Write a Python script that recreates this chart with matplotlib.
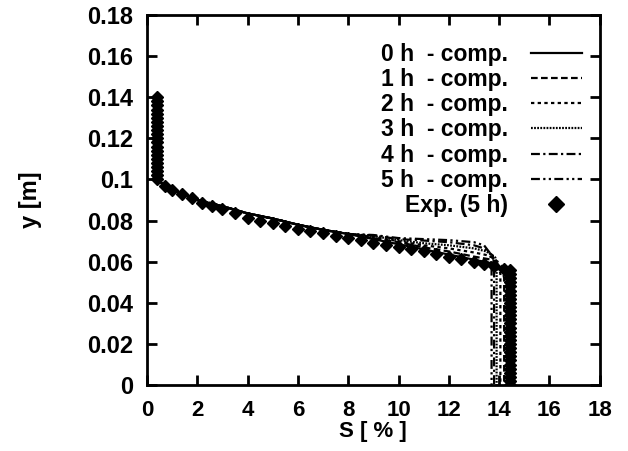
import matplotlib
matplotlib.use('Agg')
import matplotlib.pyplot as plt
from matplotlib.ticker import FormatStrFormatter

plt.rcParams.update({'font.family': 'Liberation Sans', 'font.weight': 'bold', 'font.size': 17})

# computed profiles: S [%] vs y [m]
upper_s = [0.3, 0.3, 0.6, 1.0, 2.0, 3.0, 4.0, 5.0, 6.0, 7.0, 8.0]
upper_y = [0.140, 0.102, 0.098, 0.095, 0.090, 0.087, 0.0835, 0.081, 0.078, 0.0755, 0.0735]

s_0h = upper_s + [9, 10, 11, 12, 13, 13.8, 14.2, 14.35, 14.35]
y_0h = upper_y + [0.071, 0.0685, 0.066, 0.0635, 0.061, 0.059, 0.056, 0.050, 0.0]
s_1h = upper_s + [9, 10, 11, 12, 13, 13.7, 14.1, 14.2, 14.2]
y_1h = upper_y + [0.0715, 0.0695, 0.067, 0.065, 0.0625, 0.061, 0.058, 0.052, 0.0]
s_2h = upper_s + [9, 10, 11, 12, 13, 13.6, 13.95, 14.05, 14.05]
y_2h = upper_y + [0.072, 0.070, 0.068, 0.0665, 0.0645, 0.063, 0.060, 0.054, 0.0]
s_3h = upper_s + [9, 10, 11, 12, 13, 13.5, 13.85, 13.9, 13.9]
y_3h = upper_y + [0.0725, 0.0705, 0.069, 0.068, 0.0665, 0.065, 0.062, 0.056, 0.0]
s_4h = upper_s + [9, 10, 11, 12, 13, 13.4, 13.75, 13.8, 13.8]
y_4h = upper_y + [0.0728, 0.071, 0.0703, 0.0695, 0.068, 0.0665, 0.063, 0.057, 0.0]
s_5h = upper_s + [9, 10, 11, 12, 13, 13.4, 13.65, 13.7, 13.7]
y_5h = upper_y + [0.073, 0.0715, 0.071, 0.0705, 0.0695, 0.068, 0.064, 0.058, 0.0]

# experimental points (5 h)
exp_top_y = [0.140, 0.138, 0.136, 0.134, 0.132, 0.130, 0.128, 0.126, 0.124, 0.122,
             0.120, 0.118, 0.116, 0.114, 0.112, 0.110, 0.108, 0.106, 0.104, 0.102, 0.100]
exp_mid_s = [0.7, 1.0, 1.4, 1.8, 2.2, 2.6, 3.0, 3.5, 4.0, 4.5, 5.0, 5.5, 6.0, 6.5,
             7.0, 7.5, 8.0, 8.5, 9.0, 9.5, 10.0, 10.5, 11.0, 11.5, 12.0, 12.5,
             13.0, 13.4, 13.8, 14.2]
exp_mid_y = [0.097, 0.095, 0.093, 0.091, 0.0885, 0.087, 0.0855, 0.0835, 0.0815, 0.080,
             0.079, 0.0775, 0.076, 0.075, 0.074, 0.0725, 0.0715, 0.0705, 0.069, 0.068,
             0.067, 0.066, 0.065, 0.064, 0.0625, 0.0615, 0.060, 0.059, 0.058, 0.0565]
exp_bot_y = [0.056, 0.054, 0.052, 0.050, 0.048, 0.046, 0.044, 0.042, 0.040, 0.038,
             0.036, 0.034, 0.032, 0.030, 0.028, 0.026, 0.024, 0.022, 0.020, 0.018,
             0.016, 0.014, 0.012, 0.010, 0.008, 0.006, 0.004, 0.002, 0.0]
exp_s = [0.4] * len(exp_top_y) + exp_mid_s + [14.45] * len(exp_bot_y)
exp_y = exp_top_y + exp_mid_y + exp_bot_y

fig = plt.figure(figsize=(6.28, 4.51), dpi=100)
ax = fig.add_axes([0.234, 0.146, 0.721, 0.821])

lw = 1.6
ax.plot(s_0h, y_0h, 'k-', lw=lw, label='0 h  - comp.')
ax.plot(s_1h, y_1h, 'k', lw=lw, dashes=(3, 1.5), label='1 h  - comp.')
ax.plot(s_2h, y_2h, 'k', lw=lw, dashes=(1.5, 1.5), label='2 h  - comp.')
ax.plot(s_3h, y_3h, 'k', lw=lw, dashes=(0.8, 0.6), label='3 h  - comp.')
ax.plot(s_4h, y_4h, 'k', lw=lw, dashes=(4, 1.5, 1, 1.5), label='4 h  - comp.')
ax.plot(s_5h, y_5h, 'k', lw=lw, dashes=(4, 1.5, 1, 1.5, 1, 1.5), label='5 h  - comp.')
ax.plot(exp_s, exp_y, 'kD', ms=6, ls='none', label='Exp. (5 h)')

ax.set_xlim(0, 18)
ax.set_ylim(0, 0.18)
ax.set_xticks(range(0, 19, 2))
ax.set_yticks([0, 0.02, 0.04, 0.06, 0.08, 0.1, 0.12, 0.14, 0.16, 0.18])
ax.yaxis.set_major_formatter(FormatStrFormatter('%g'))
ax.tick_params(direction='in', length=7, width=2, top=True, right=True, pad=10)
ax.tick_params(axis='x', pad=11, labelsize=16)
for sp in ax.spines.values():
    sp.set_linewidth(2)

ax.set_xlabel('S [ % ]', fontsize=16, fontweight='bold', labelpad=0)
ax.set_ylabel('y [m]', fontsize=17, fontweight='bold', labelpad=32)

ax.legend(loc='upper right', bbox_to_anchor=(0.98, 0.95), frameon=False, markerfirst=False,
          handlelength=2.2, handletextpad=1.0, labelspacing=0.1, borderaxespad=0,
          prop={'weight': 'bold', 'size': 16.5}, numpoints=1, markerscale=1.3)

fig.savefig('out.png', dpi=100)
